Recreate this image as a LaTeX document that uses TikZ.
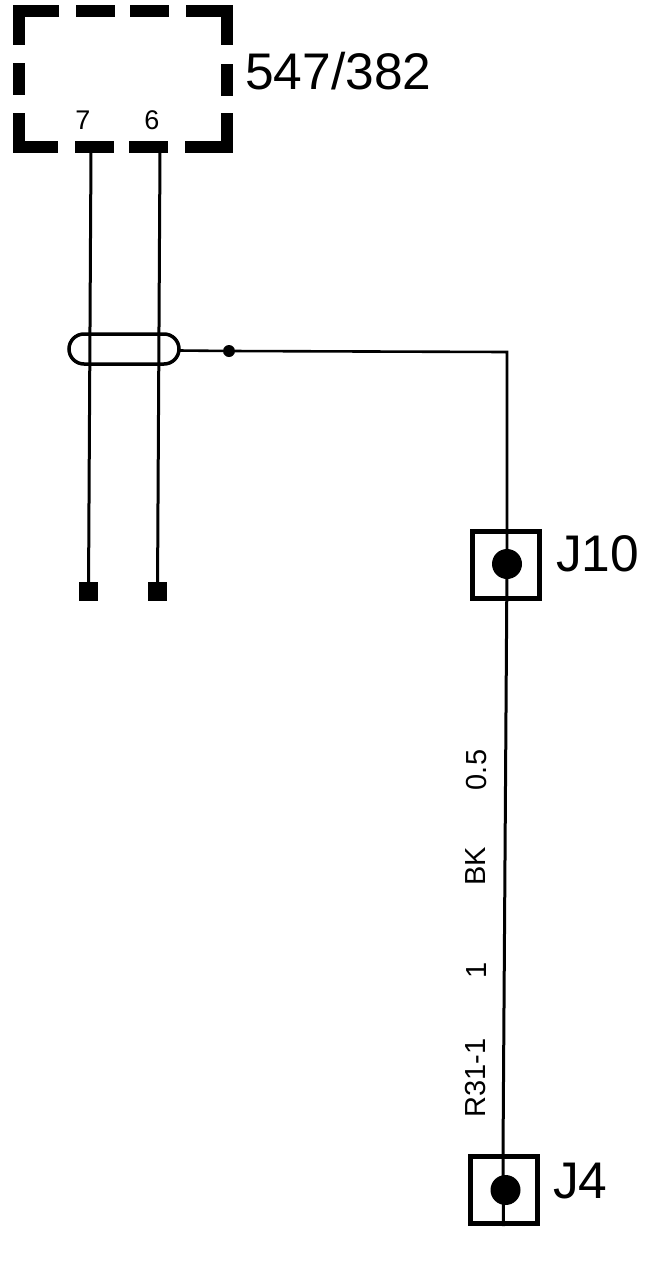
\documentclass[tikz,border=0pt]{standalone}
\usepackage{fontspec}
\setmainfont{Liberation Sans}
\tikzset{
  wire/.style={line width=3pt,black},
  thinwire/.style={line width=2.6pt,black},
  dashbox/.style={line width=11.5pt,black,line cap=butt,line join=miter},
  connbox/.style={draw,line width=5pt,minimum width=67pt,minimum height=67pt,inner sep=0pt},
  bigdot/.style={circle,fill=black,minimum size=30pt,inner sep=0pt},
  smalldot/.style={circle,fill=black,minimum size=12pt,inner sep=0pt},
  endsq/.style={rectangle,fill=black,minimum width=19pt,minimum height=19pt,inner sep=0pt},
  biglabel/.style={font=\fontsize{51.5}{52}\selectfont,inner sep=0pt,anchor=west},
  pinlabel/.style={font=\fontsize{27}{27}\selectfont,inner sep=0pt},
  sidelabel/.style={font=\fontsize{29}{29}\selectfont,inner sep=0pt,rotate=90}
}
\begin{document}
\begin{tikzpicture}[x=1pt,y=-1pt]
\useasboundingbox (0,0) rectangle (662,1264);
% dashed housing
\draw[dashbox] (59,11) -- (19,11) -- (19,45);
\draw[dashbox] (76,11) -- (115,11);
\draw[dashbox] (130,11) -- (169,11);
\draw[dashbox] (186,11) -- (227,11) -- (227,45);
\draw[dashbox] (19,63) -- (19,95);
\draw[dashbox] (227,64) -- (227,96);
\draw[dashbox] (19,113) -- (19,147) -- (58,147);
\draw[dashbox] (227,113) -- (227,147) -- (185,147);
\draw[dashbox] (75,147) -- (114,147);
\draw[dashbox] (129,147) -- (168,147);
\node[biglabel] (title) at (245,71) {547/382};
\node[pinlabel] (p7) at (83,120) {7};
\node[pinlabel] (p6) at (152,120) {6};
\coordinate (w7) at (91,150);
\coordinate (w6) at (160,150);
\node[endsq] (e7) at (88.5,591.5) {};
\node[endsq] (e6) at (157.5,591.5) {};
\draw[wire] (w7) -- (e7.center);
\draw[wire] (w6) -- (e6.center);
% shield
\node[draw,line width=3.5pt,rounded corners=15pt,minimum width=110pt,minimum height=30pt,inner sep=0pt] (shield) at (124,349) {};
\node[smalldot] (sd) at (229,351) {};
\coordinate (shieldout) at (179,350.5);
\coordinate (corner) at (507,352);
% connectors
\node[connbox] (j10) at (506,565) {};
\node[bigdot] (d10) at (507,564) {};
\node[connbox] (j4) at (503.5,1190) {};
\node[bigdot] (d4) at (505.5,1190) {};
\coordinate (j4in) at (503,1155);
\draw[thinwire] (shieldout) -- (sd) -- (corner) -- (d10.center);
\draw[wire] (d10.center) -- (j4in) -- (j4.south);
\node[biglabel] (l10) at (556,554) {J10};
\node[biglabel] (l4) at (553,1181) {J4};
\node[sidelabel] (a) at (477,770) {0.5};
\node[sidelabel] (b) at (476,866) {BK};
\node[sidelabel] (c) at (477,970) {1};
\node[sidelabel] (d) at (476,1078) {R31-1};
\end{tikzpicture}
\end{document}
